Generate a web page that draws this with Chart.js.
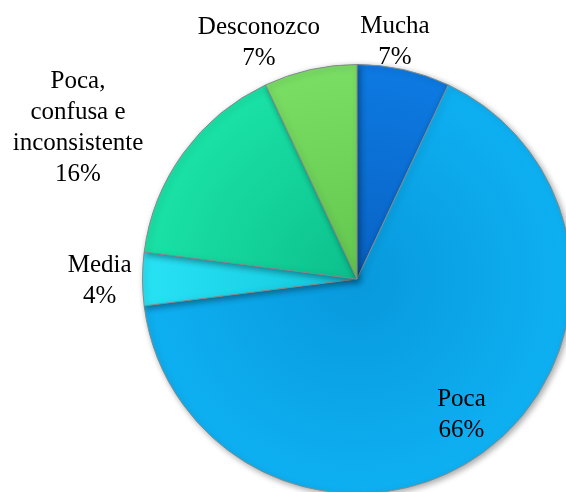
<!DOCTYPE html>
<html>
<head>
<meta charset="utf-8">
<script src="https://cdn.jsdelivr.net/npm/chart.js@4"></script>
<style>
  html, body { margin: 0; padding: 0; background: #fff; overflow: hidden; }
  #wrap { width: 566px; height: 492px; overflow: hidden; }
</style>
</head>
<body>
<div id="wrap"><canvas id="chart" width="580" height="500"></canvas></div>
<script>
let categories = ["Mucha", "Poca", "Media", "Poca, confusa e inconsistente", "Desconozco"]
let labelLines = [["Mucha"], ["Poca"], ["Media"], ["Poca,", "confusa e", "inconsistente"], ["Desconozco"]]
let values = [7, 66, 4, 16, 7]
let innerColors = ["#0962c4", "#0899dc", "#12c6dc", "#0cbf8c", "#63c64e"]
let outerColors = ["#0d7ae2", "#0eb0f2", "#28e2f4", "#1ae2a6", "#7ade64"]

// where each label sits: radius factor and angle shift (degrees) from slice middle
let labelRadius = [1.12, 0.8, 1.2, 1.48, 1.19]
let labelShift = [-3.5, -1.5, -0.5, -7.5, -10]

let object = document.getElementById("chart")

function fill(context) {
    let chart = context.chart
    let area = chart.chartArea
    let i = context.dataIndex
    if (!area) return outerColors[i]
    let x = (area.left + area.right) / 2
    let y = (area.top + area.bottom) / 2
    let r = Math.min(area.right - area.left, area.bottom - area.top) / 2
    let g = chart.ctx.createRadialGradient(x, y, 0, x, y, r)
    g.addColorStop(0, innerColors[i])
    g.addColorStop(1, outerColors[i])
    return g
}

let shadow = {
    id: "shadow",
    beforeDatasetsDraw(chart) {
        let ctx = chart.ctx
        ctx.save()
        ctx.shadowColor = "rgba(0,0,0,0.35)"
        ctx.shadowBlur = 6
        ctx.shadowOffsetX = 2
        ctx.shadowOffsetY = 2
    },
    afterDatasetsDraw(chart) {
        chart.ctx.restore()
    }
}

let pieLabels = {
    id: "pieLabels",
    afterDraw(chart) {
        let ctx = chart.ctx
        let meta = chart.getDatasetMeta(0)
        let total = values.reduce((a, b) => a + b, 0)
        ctx.save()
        ctx.fillStyle = "#000"
        ctx.font = "25px 'Liberation Serif', 'Times New Roman', serif"
        ctx.textAlign = "center"
        ctx.textBaseline = "middle"
        meta.data.forEach((arc, i) => {
            let p = arc.getProps(["x", "y", "startAngle", "endAngle", "outerRadius"], true)
            let mid = (p.startAngle + p.endAngle) / 2 + labelShift[i] * Math.PI / 180
            let r = p.outerRadius * labelRadius[i]
            let cx = p.x + Math.cos(mid) * r
            let cy = p.y + Math.sin(mid) * r
            let lines = labelLines[i].concat([Math.round(values[i] / total * 100) + "%"])
            let lh = 31
            let top = cy - (lines.length - 1) * lh / 2
            lines.forEach((t, j) => ctx.fillText(t, cx, top + j * lh))
        })
        ctx.restore()
    }
}

let config = {
    type: "pie",
    data: {
        labels: categories,
        datasets: [
            {
                data: values,
                backgroundColor: fill,
                borderColor: "#7f8c8d",
                borderWidth: 1
            }
        ]
    },
    options: {
        responsive: false,
        animation: false,
        layout: {
            padding: { left: 142, right: 8, top: 64, bottom: 6 }
        },
        plugins: {
            legend: { display: false },
            tooltip: { enabled: false }
        }
    },
    plugins: [shadow, pieLabels]
}
let chart = new Chart(object, config)
</script>
</body>
</html>
